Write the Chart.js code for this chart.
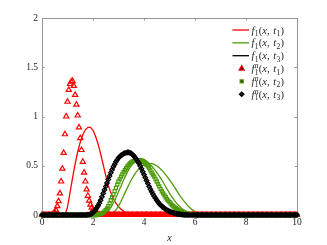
<!DOCTYPE html>
<html>
<head>
<meta charset="utf-8">
<script src="https://cdn.jsdelivr.net/npm/chart.js@4.4.1/dist/chart.umd.min.js"></script>
<style>
    html, body { margin: 0; padding: 0; background: #fff; }
</style>
</head>
<body>
<canvas id="myChart" width="327" height="245"></canvas>
<script>
// x sampling grids: 0.05 for the marker series, 0.1 for the lines
const xFine = [];
for (let i = 0; i <= 200; i++) xFine.push(+(i * 0.05).toFixed(2));
const xCoarse = [];
for (let i = 0; i <= 100; i++) xCoarse.push(+(i * 0.1).toFixed(1));

const xTicks = [0, 2, 4, 6, 8, 10];
const yTicks = [0, 0.5, 1, 1.5, 2];

// lines, one row per unit of x (0.1 step)
const redLine = [
    0, 0, 0, 0, 0, 0, 0, 0, 0, 0,
    0.08, 0.23, 0.38, 0.52, 0.64, 0.74, 0.815, 0.865, 0.89, 0.89,
    0.86, 0.8, 0.72, 0.62, 0.51, 0.4, 0.3, 0.225, 0.165, 0.12,
    0.085, 0.058, 0.038, 0.023, 0.012, 0.005, 0.002, 0, 0, 0,
    0, 0, 0, 0, 0, 0, 0, 0, 0, 0,
    0, 0, 0, 0, 0, 0, 0, 0, 0, 0,
    0, 0, 0, 0, 0, 0, 0, 0, 0, 0,
    0, 0, 0, 0, 0, 0, 0, 0, 0, 0,
    0, 0, 0, 0, 0, 0, 0, 0, 0, 0,
    0, 0, 0, 0, 0, 0, 0, 0, 0, 0,
    0
];
const greenLine = [
    0, 0, 0, 0, 0, 0, 0, 0, 0, 0,
    0, 0, 0, 0, 0, 0, 0, 0, 0, 0,
    0, 0, 0, 0, 0.008, 0.02, 0.04, 0.075, 0.12, 0.175,
    0.235, 0.295, 0.355, 0.41, 0.46, 0.5, 0.535, 0.557, 0.57, 0.572,
    0.565, 0.548, 0.525, 0.497, 0.465, 0.43, 0.395, 0.355, 0.31, 0.265,
    0.222, 0.182, 0.145, 0.113, 0.086, 0.063, 0.045, 0.03, 0.019, 0.011,
    0.006, 0.003, 0, 0, 0, 0, 0, 0, 0, 0,
    0, 0, 0, 0, 0, 0, 0, 0, 0, 0,
    0, 0, 0, 0, 0, 0, 0, 0, 0, 0,
    0, 0, 0, 0, 0, 0, 0, 0, 0, 0,
    0
];
const greenLine2 = [
    0, 0, 0, 0, 0, 0, 0, 0, 0, 0,
    0, 0, 0, 0, 0, 0, 0, 0, 0, 0,
    0, 0, 0, 0, 0, 0, 0, 0.008, 0.025, 0.05,
    0.09, 0.14, 0.195, 0.25, 0.305, 0.355, 0.4, 0.438, 0.468, 0.492,
    0.508, 0.518, 0.522, 0.521, 0.514, 0.5, 0.48, 0.455, 0.425, 0.392,
    0.357, 0.32, 0.28, 0.24, 0.2, 0.163, 0.13, 0.1, 0.074, 0.052,
    0.035, 0.022, 0.013, 0.007, 0.003, 0, 0, 0, 0, 0,
    0, 0, 0, 0, 0, 0, 0, 0, 0, 0,
    0, 0, 0, 0, 0, 0, 0, 0, 0, 0,
    0, 0, 0, 0, 0, 0, 0, 0, 0, 0,
    0
];
const blackLine = [
    0, 0, 0, 0, 0, 0, 0, 0, 0, 0,
    0, 0, 0, 0, 0, 0, 0, 0, 0.003, 0.008,
    0.025, 0.055, 0.095, 0.15, 0.22, 0.29, 0.36, 0.43, 0.49, 0.54,
    0.58, 0.605, 0.622, 0.632, 0.635, 0.625, 0.6, 0.565, 0.525, 0.47,
    0.41, 0.35, 0.29, 0.235, 0.19, 0.15, 0.115, 0.088, 0.068, 0.05,
    0.037, 0.026, 0.018, 0.012, 0.008, 0.005, 0.002, 0, 0, 0,
    0, 0, 0, 0, 0, 0, 0, 0, 0, 0,
    0, 0, 0, 0, 0, 0, 0, 0, 0, 0,
    0, 0, 0, 0, 0, 0, 0, 0, 0, 0,
    0, 0, 0, 0, 0, 0, 0, 0, 0, 0,
    0
];

// markers, one row per unit of x (0.05 step)
const redTri = [
    0, 0, 0, 0, 0, 0, 0, 0, 0.005, 0.015, 0.03, 0.05, 0.09, 0.14, 0.22, 0.34, 0.47, 0.63, 0.82, 1.0,
    1.15, 1.27, 1.33, 1.355, 1.36, 1.31, 1.22, 1.12, 1.01, 0.89, 0.78, 0.66, 0.54, 0.43, 0.34, 0.26, 0.195, 0.145, 0.105, 0.075,
    0.052, 0.035, 0.022, 0.013, 0.007, 0.003, 0, 0, 0, 0, 0, 0, 0, 0, 0, 0, 0, 0, 0, 0,
    0, 0, 0, 0, 0, 0, 0, 0, 0, 0, 0, 0, 0, 0, 0, 0, 0, 0, 0, 0,
    0, 0, 0, 0, 0, 0, 0, 0, 0, 0, 0, 0, 0, 0, 0, 0, 0, 0, 0, 0,
    0, 0, 0, 0, 0, 0, 0, 0, 0, 0, 0, 0, 0, 0, 0, 0, 0, 0, 0, 0,
    0, 0, 0, 0, 0, 0, 0, 0, 0, 0, 0, 0, 0, 0, 0, 0, 0, 0, 0, 0,
    0, 0, 0, 0, 0, 0, 0, 0, 0, 0, 0, 0, 0, 0, 0, 0, 0, 0, 0, 0,
    0, 0, 0, 0, 0, 0, 0, 0, 0, 0, 0, 0, 0, 0, 0, 0, 0, 0, 0, 0,
    0, 0, 0, 0, 0, 0, 0, 0, 0, 0, 0, 0, 0, 0, 0, 0, 0, 0, 0, 0,
    0
];
const greenSq = [
    0, 0, 0, 0, 0, 0, 0, 0, 0, 0, 0, 0, 0, 0, 0, 0, 0, 0, 0, 0,
    0, 0, 0, 0, 0, 0, 0, 0, 0, 0, 0, 0, 0, 0, 0, 0, 0, 0, 0, 0,
    0, 0, 0, 0, 0.005, 0.008, 0.012, 0.017, 0.024, 0.035, 0.05, 0.068, 0.09, 0.118, 0.15, 0.18, 0.21, 0.242, 0.275, 0.308,
    0.34, 0.365, 0.39, 0.413, 0.435, 0.456, 0.475, 0.493, 0.51, 0.523, 0.535, 0.543, 0.55, 0.553, 0.555, 0.556, 0.556, 0.555, 0.55, 0.543,
    0.535, 0.523, 0.51, 0.493, 0.475, 0.453, 0.43, 0.41, 0.39, 0.365, 0.34, 0.315, 0.29, 0.265, 0.24, 0.22, 0.2, 0.18, 0.16, 0.145,
    0.13, 0.115, 0.1, 0.089, 0.078, 0.069, 0.06, 0.052, 0.045, 0.038, 0.032, 0.027, 0.022, 0.018, 0.014, 0.011, 0.008, 0.006, 0.004, 0.003,
    0.002, 0.001, 0, 0, 0, 0, 0, 0, 0, 0, 0, 0, 0, 0, 0, 0, 0, 0, 0, 0,
    0, 0, 0, 0, 0, 0, 0, 0, 0, 0, 0, 0, 0, 0, 0, 0, 0, 0, 0, 0,
    0, 0, 0, 0, 0, 0, 0, 0, 0, 0, 0, 0, 0, 0, 0, 0, 0, 0, 0, 0,
    0, 0, 0, 0, 0, 0, 0, 0, 0, 0, 0, 0, 0, 0, 0, 0, 0, 0, 0, 0,
    0
];
const blackDia = [
    0, 0, 0, 0, 0, 0, 0, 0, 0, 0, 0, 0, 0, 0, 0, 0, 0, 0, 0, 0,
    0, 0, 0, 0, 0, 0, 0, 0, 0, 0, 0, 0, 0, 0, 0, 0, 0.003, 0.005, 0.008, 0.015,
    0.025, 0.038, 0.055, 0.074, 0.095, 0.12, 0.15, 0.185, 0.22, 0.255, 0.29, 0.325, 0.36, 0.395, 0.43, 0.46, 0.49, 0.515, 0.54, 0.56,
    0.58, 0.593, 0.605, 0.614, 0.622, 0.628, 0.632, 0.635, 0.635, 0.631, 0.625, 0.614, 0.6, 0.584, 0.565, 0.546, 0.525, 0.498, 0.47, 0.44,
    0.41, 0.38, 0.35, 0.32, 0.29, 0.262, 0.235, 0.212, 0.19, 0.17, 0.15, 0.132, 0.115, 0.101, 0.088, 0.078, 0.068, 0.059, 0.05, 0.043,
    0.037, 0.031, 0.026, 0.022, 0.018, 0.015, 0.012, 0.01, 0.008, 0.006, 0.005, 0.003, 0.002, 0.001, 0, 0, 0, 0, 0, 0,
    0, 0, 0, 0, 0, 0, 0, 0, 0, 0, 0, 0, 0, 0, 0, 0, 0, 0, 0, 0,
    0, 0, 0, 0, 0, 0, 0, 0, 0, 0, 0, 0, 0, 0, 0, 0, 0, 0, 0, 0,
    0, 0, 0, 0, 0, 0, 0, 0, 0, 0, 0, 0, 0, 0, 0, 0, 0, 0, 0, 0,
    0, 0, 0, 0, 0, 0, 0, 0, 0, 0, 0, 0, 0, 0, 0, 0, 0, 0, 0, 0,
    0
];

const RED = '#ff0000';
const GREEN = 'rgb(77,155,10)';
const BLACK = '#000000';
const TEXT = '#262626';
const SERIF = '"Liberation Serif", "DejaVu Serif", serif';

function pts(xs, ys) {
    return xs.map((x, i) => ({ x: x, y: ys[i] }));
}

function lineSet(label, xs, ys, color) {
    return {
        label: label, data: pts(xs, ys), showLine: true,
        borderColor: color, borderWidth: 1.3, pointRadius: 0,
        tension: 0, clip: false
    };
}
function markSet(label, xs, ys, color, style, r, bw) {
    return {
        label: label, data: pts(xs, ys), showLine: false,
        borderColor: color, backgroundColor: 'rgba(0,0,0,0)',
        pointStyle: style, pointRadius: r, pointBorderWidth: bw, clip: false
    };
}

// drawn bottom to top (later ones on top, like the original)
const sets = [
    lineSet('f_1(x, t_1)', xCoarse, redLine, RED),
    lineSet('', xCoarse, greenLine2, GREEN),
    lineSet('f_1(x, t_2)', xCoarse, greenLine, GREEN),
    lineSet('f_1(x, t_3)', xCoarse, blackLine, BLACK),
    markSet('f_1^a(x, t_1)', xFine, redTri, RED, 'triangle', 3, 1.2),
    markSet('f_1^a(x, t_2)', xFine, greenSq, GREEN, 'rect', 2.2, 1.2),
    markSet('f_1^a(x, t_3)', xFine, blackDia, BLACK, 'rectRot', 2.2, 1.3)
];
sets.forEach((s, i) => { s.order = sets.length - i; });

// italic letters, upright digits, _ subscript, ^ superscript
function drawMath(c, str, x, y) {
    let pos = x, scriptStart = null, scriptW = 0;
    for (let i = 0; i < str.length; i++) {
        const ch = str[i];
        if (ch === '_' || ch === '^') {
            const s = str[++i];
            if (scriptStart === null) { scriptStart = pos; scriptW = 0; }
            c.font = (/[a-z]/.test(s) ? 'italic ' : '') + '7.5px ' + SERIF;
            c.fillText(s, scriptStart + 0.4, y + (ch === '_' ? 2.5 : -4));
            scriptW = Math.max(scriptW, c.measureText(s).width + 0.6);
            continue;
        }
        if (scriptStart !== null) { pos = scriptStart + scriptW; scriptStart = null; }
        c.font = (/[a-z]/.test(ch) ? 'italic ' : '') + '10.5px ' + SERIF;
        c.fillText(ch, pos, y);
        pos += c.measureText(ch).width;
        if (ch === ',') pos += 1;
    }
}

const legendPlugin = {
    id: 'mathLegend',
    afterDraw(chart) {
        const c = chart.ctx;
        c.save();
        c.fillStyle = TEXT;
        c.textBaseline = 'alphabetic';
        c.textAlign = 'left';
        let row = 0;
        chart.data.datasets.forEach(ds => {
            if (!ds.label) return;
            const y = 30 + row * 12.85;
            if (ds.showLine) {
                c.strokeStyle = ds.borderColor;
                c.lineWidth = 1.3;
                c.beginPath();
                c.moveTo(232.5, y);
                c.lineTo(249, y);
                c.stroke();
            } else {
                c.strokeStyle = ds.borderColor;
                c.lineWidth = ds.pointBorderWidth;
                Chart.helpers.drawPoint(c, { pointStyle: ds.pointStyle, radius: ds.pointRadius, borderWidth: ds.pointBorderWidth }, 241.7, y);
            }
            c.fillStyle = TEXT;
            drawMath(c, ds.label, 251.5, y + 3.5);
            row++;
        });
        c.restore();
    }
};

const boxPlugin = {
    id: 'box',
    beforeDatasetsDraw(chart) {
        const a = chart.chartArea;
        const c = chart.ctx;
        const xs = chart.scales.x, ys = chart.scales.y;
        c.save();
        c.strokeStyle = 'rgb(150,150,150)';
        c.lineWidth = 1;
        c.strokeRect(a.left + 0.5, a.top + 0.5, a.right - a.left, a.bottom - a.top);
        c.beginPath();
        xTicks.forEach(v => {
            const px = Math.round(xs.getPixelForValue(v)) + 0.5;
            c.moveTo(px, a.bottom); c.lineTo(px, a.bottom - 2.5);
            c.moveTo(px, a.top); c.lineTo(px, a.top + 2.5);
        });
        yTicks.forEach(v => {
            const py = Math.round(ys.getPixelForValue(v)) + 0.5;
            c.moveTo(a.left, py); c.lineTo(a.left + 2.5, py);
            c.moveTo(a.right, py); c.lineTo(a.right - 2.5, py);
        });
        c.stroke();
        c.restore();
    }
};

const ctx = document.getElementById('myChart').getContext('2d');
const myChart = new Chart(ctx, {
    type: 'scatter',
    data: { datasets: sets },
    options: {
        responsive: false,
        animation: false,
        devicePixelRatio: 1,
        layout: { padding: { top: 18, right: 30, left: 0, bottom: 0 } },
        plugins: { legend: { display: false }, tooltip: { enabled: false } },
        scales: {
            x: {
                type: 'linear', min: 0, max: 10,
                afterFit: s => { s.height = 30; },
                afterBuildTicks: s => { s.ticks = xTicks.map(v => ({ value: v })); },
                grid: { display: false, drawTicks: false },
                border: { display: false },
                ticks: { padding: 2, color: TEXT, maxRotation: 0, font: { family: SERIF, size: 9.5 }, callback: v => String(v) },
                title: { display: true, text: 'x', color: TEXT, font: { family: SERIF, size: 10, style: 'italic' }, padding: { top: 0, bottom: 1 } }
            },
            y: {
                type: 'linear', min: 0, max: 2,
                afterFit: s => { s.width = 42; },
                afterBuildTicks: s => { s.ticks = yTicks.map(v => ({ value: v })); },
                grid: { display: false, drawTicks: false },
                border: { display: false },
                ticks: { padding: 4, color: TEXT, font: { family: SERIF, size: 9.5 }, callback: v => String(v) }
            }
        }
    },
    plugins: [boxPlugin, legendPlugin]
});
</script>
</body>
</html>
